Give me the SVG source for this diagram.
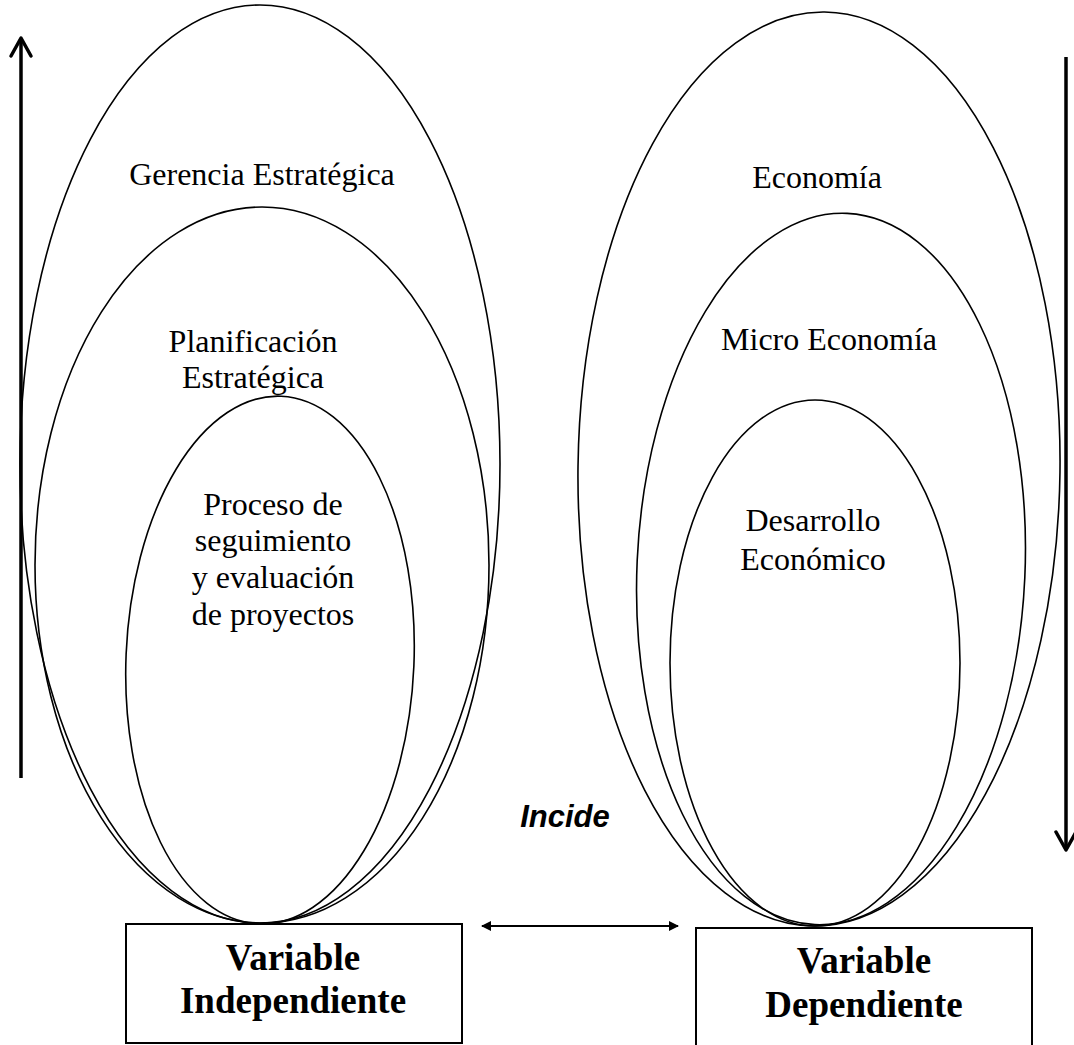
<svg xmlns="http://www.w3.org/2000/svg" width="1074" height="1045" viewBox="0 0 1074 1045">
<defs>
<style>
.el{fill:none;stroke:#000;stroke-width:1.6}
.box{fill:#fff;stroke:#000;stroke-width:2}
.t{font-family:"Liberation Serif","Times New Roman",serif;font-size:32px;fill:#000;text-anchor:middle}
.tb{font-family:"Liberation Serif","Times New Roman",serif;font-size:37px;font-weight:bold;fill:#000;text-anchor:middle}
.ar{fill:none;stroke:#000;stroke-width:3.5}
.hd{fill:none;stroke:#000;stroke-width:3.5;stroke-linecap:round;stroke-linejoin:round}
</style>
<marker id="tri" viewBox="0 0 10 10" refX="9" refY="5" markerWidth="6" markerHeight="5" orient="auto-start-reverse"><path d="M0,0 L10,5 L0,10 z" fill="#000"/></marker>
</defs>
<rect width="1074" height="1045" fill="#fff"/>
<g id="left-outer"><ellipse class="el" cx="260" cy="464" rx="240" ry="459"/><text class="t" x="262" y="185">Gerencia Estratégica</text></g>
<g id="left-middle"><ellipse class="el" cx="262" cy="565" rx="227" ry="358"/><text class="t" x="253" y="352">Planificación</text><text class="t" x="253" y="388">Estratégica</text></g>
<g id="left-inner"><ellipse class="el" cx="270" cy="660" rx="144" ry="264" transform="rotate(2.4 270 660)"/><text class="t" x="273" y="515">Proceso de</text><text class="t" x="273" y="551">seguimiento</text><text class="t" x="273" y="588">y evaluación</text><text class="t" x="273" y="625">de proyectos</text></g>
<g id="right-outer"><ellipse class="el" cx="819" cy="469" rx="241" ry="457" transform="rotate(0.7 819 469)"/><text class="t" x="817" y="188">Economía</text></g>
<g id="right-middle"><ellipse class="el" cx="831" cy="569" rx="194" ry="356" transform="rotate(2.6 831 569)"/><text class="t" x="829" y="350">Micro Economía</text></g>
<g id="right-inner"><ellipse class="el" cx="815" cy="663" rx="145" ry="263"/><text class="t" x="813" y="531">Desarrollo</text><text class="t" x="813" y="570">Económico</text></g>
<g id="var-indep"><rect class="box" x="126" y="924" width="336" height="119"/><text class="tb" x="293" y="970">Variable</text><text class="tb" x="293" y="1013">Independiente</text></g>
<g id="var-dep"><rect class="box" x="696" y="928" width="336" height="130"/><text class="tb" x="864" y="973">Variable</text><text class="tb" x="864" y="1017">Dependiente</text></g>
<g id="connectors">
<line class="ar" x1="21" y1="39" x2="21" y2="778"/>
<polyline class="hd" points="11,56 21,38 31,56"/>
<line class="ar" x1="1066" y1="57" x2="1066" y2="849"/>
<polyline class="hd" points="1056,832 1066,850 1076,832"/>
<line x1="482" y1="926" x2="678" y2="926" stroke="#000" stroke-width="2" marker-start="url(#tri)" marker-end="url(#tri)"/>
<text x="565" y="827" font-family="Liberation Sans,Arial,sans-serif" font-size="31" font-weight="bold" font-style="italic" text-anchor="middle">Incide</text>
</g>
</svg>
